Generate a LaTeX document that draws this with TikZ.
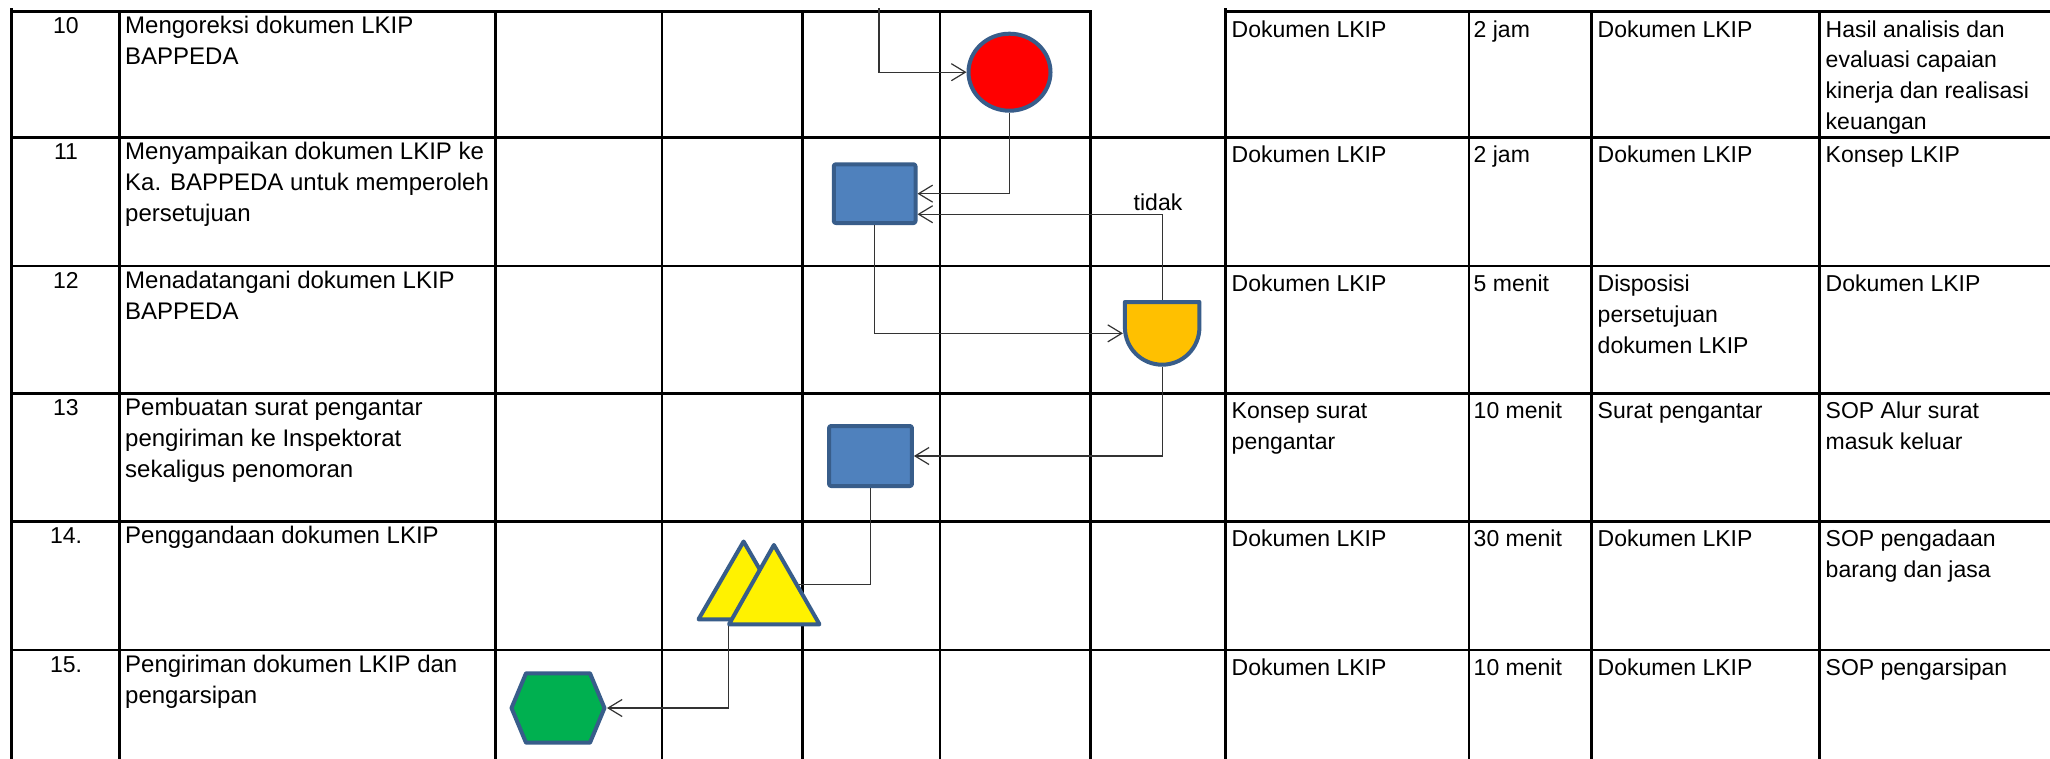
\documentclass[tikz,border=0pt]{standalone}
\usepackage{fontspec}
\setmainfont{Liberation Sans}
\usetikzlibrary{arrows.meta,shapes.geometric}
\definecolor{shapeline}{HTML}{385D8A}
\definecolor{rectfill}{HTML}{4F81BD}
\definecolor{dfill}{HTML}{FFC000}
\definecolor{hexfill}{HTML}{00B050}
\newcommand\tabfont{\fontsize{23pt}{30.8pt}\selectfont}
\newcommand\desfont{\fontsize{24pt}{30.8pt}\selectfont}
\newcommand\ltabstrut{\rule{0pt}{22pt}}
\newcommand\rtabstrut{\rule{0pt}{25.2pt}}
\begin{document}
\begin{tikzpicture}[x=1pt,y=-1pt,
  gridline/.style={line width=2.8pt, line cap=rect},
  numcell/.style={anchor=north, inner sep=0pt, font=\tabfont},
  descell/.style={anchor=north west, inner sep=0pt, align=left, font=\desfont},
  txtcell/.style={anchor=north west, inner sep=0pt, align=left, font=\tabfont},
  shapeborder/.style={draw=shapeline, line width=4pt, line join=round},
  conn/.style={draw=black!80, line width=1.2pt, -{Straight Barb[length=14pt,width=17pt]}},
  connplain/.style={draw=black!80, line width=1.2pt},
  anchorbox/.style={inner sep=0pt, outer sep=0pt, draw=none}]
\useasboundingbox (0,0) rectangle (2050,758);
\clip (0,0) rectangle (2050,758);
\fill[white] (0,0) rectangle (2050,758);
% grid
\draw[gridline] (11.7,11.7) -- (1090.5,11.7);
\draw[gridline] (1225.5,11.7) -- (2070,11.7);
\foreach \yy in {137.5,266,393.5,521.5,650} \draw[gridline] (11.7,\yy) -- (2070,\yy);
\foreach \xx in {11.7,119.3,495.5,662,802.5,940,1090.5,1225.5,1469,1591.3,1819.5} \draw[gridline] (\xx,11.7) -- (\xx,780);
\draw[gridline] (11.7,9) -- (11.7,12);
\draw[gridline] (1225.5,9) -- (1225.5,12);
% row 10
\node[numcell] (n10) at (66,11.7) {\ltabstrut 10};
\node[descell] (d10) at (125,11.7) {\ltabstrut Mengoreksi dokumen LKIP\\BAPPEDA};
\node[txtcell] (a10) at (1231.5,11.7) {\rtabstrut Dokumen LKIP};
\node[txtcell] (b10) at (1473.5,11.7) {\rtabstrut 2 jam};
\node[txtcell] (c10) at (1597.5,11.7) {\rtabstrut Dokumen LKIP};
\node[txtcell] (e10) at (1825.5,11.7) {\rtabstrut Hasil analisis dan\\evaluasi capaian\\kinerja dan realisasi\\keuangan};
% row 11
\node[numcell] (n11) at (66,137.5) {\ltabstrut 11};
\node[descell] (d11) at (125,137.5) {\ltabstrut Menyampaikan dokumen LKIP ke\\Ka. BAPPEDA untuk memperoleh\\persetujuan};
\node[txtcell] (a11) at (1231.5,137.5) {\rtabstrut Dokumen LKIP};
\node[txtcell] (b11) at (1473.5,137.5) {\rtabstrut 2 jam};
\node[txtcell] (c11) at (1597.5,137.5) {\rtabstrut Dokumen LKIP};
\node[txtcell] (e11) at (1825.5,137.5) {\rtabstrut Konsep LKIP};
% row 12
\node[numcell] (n12) at (66,266) {\ltabstrut 12};
\node[descell] (d12) at (125,266) {\ltabstrut Menadatangani dokumen LKIP\\BAPPEDA};
\node[txtcell] (a12) at (1231.5,266) {\rtabstrut Dokumen LKIP};
\node[txtcell] (b12) at (1473.5,266) {\rtabstrut 5 menit};
\node[txtcell] (c12) at (1597.5,266) {\rtabstrut Disposisi\\persetujuan\\dokumen LKIP};
\node[txtcell] (e12) at (1825.5,266) {\rtabstrut Dokumen LKIP};
% row 13
\node[numcell] (n13) at (66,393.5) {\ltabstrut 13};
\node[descell] (d13) at (125,393.5) {\ltabstrut Pembuatan surat pengantar\\pengiriman ke Inspektorat\\sekaligus penomoran};
\node[txtcell] (a13) at (1231.5,393.5) {\rtabstrut Konsep surat\\pengantar};
\node[txtcell] (b13) at (1473.5,393.5) {\rtabstrut 10 menit};
\node[txtcell] (c13) at (1597.5,393.5) {\rtabstrut Surat pengantar};
\node[txtcell] (e13) at (1825.5,393.5) {\rtabstrut SOP Alur surat\\masuk keluar};
% row 14
\node[numcell] (n14) at (66,521.5) {\ltabstrut 14.};
\node[descell] (d14) at (125,521.5) {\ltabstrut Penggandaan dokumen LKIP};
\node[txtcell] (a14) at (1231.5,521.5) {\rtabstrut Dokumen LKIP};
\node[txtcell] (b14) at (1473.5,521.5) {\rtabstrut 30 menit};
\node[txtcell] (c14) at (1597.5,521.5) {\rtabstrut Dokumen LKIP};
\node[txtcell] (e14) at (1825.5,521.5) {\rtabstrut SOP pengadaan\\barang dan jasa};
% row 15
\node[numcell] (n15) at (66,650) {\ltabstrut 15.};
\node[descell] (d15) at (125,650) {\ltabstrut Pengiriman dokumen LKIP dan\\pengarsipan};
\node[txtcell] (a15) at (1231.5,650) {\rtabstrut Dokumen LKIP};
\node[txtcell] (b15) at (1473.5,650) {\rtabstrut 10 menit};
\node[txtcell] (c15) at (1597.5,650) {\rtabstrut Dokumen LKIP};
\node[txtcell] (e15) at (1825.5,650) {\rtabstrut SOP pengarsipan};
% shapes
\node[ellipse, shapeborder, fill=red, minimum width=82pt, minimum height=77pt, inner sep=0pt] (circ) at (1009.5,72.2) {};
\node[rectangle, shapeborder, fill=rectfill, rounded corners=2pt, minimum width=81.7pt, minimum height=58.7pt, inner sep=0pt] (r1) at (874.65,193.65) {};
\node[rectangle, shapeborder, fill=rectfill, rounded corners=2pt, minimum width=82.8pt, minimum height=60pt, inner sep=0pt] (r2) at (870.5,456) {};
\node[anchorbox, minimum width=78.5pt, minimum height=66.7pt] (dly) at (1162.15,333.35) {};
\draw[shapeborder, fill=dfill] (1124.9,302) -- (1124.9,327.45) arc[start angle=180, end angle=360, radius=37.25pt] -- (1199.4,302) -- cycle;
\node[anchorbox, minimum width=95.7pt, minimum height=84pt] (tri2) at (774.2,584.3) {};
\node[anchorbox, minimum width=98pt, minimum height=73.4pt] (hexn) at (558,708) {};
% connector hidden behind the triangles
\draw[connplain] (r2.south) |- (tri2.center);
\draw[shapeborder, fill=yellow] (743.6,541.5) -- (788.7,619.3) -- (698.5,619.3) -- cycle;
\draw[shapeborder, fill=yellow] (773.9,545) -- (819.5,624.3) -- (729,624.3) -- cycle;
\draw[shapeborder, fill=hexfill] (511.5,708) -- (526,673.3) -- (590,673.3) -- (604.5,708) -- (590,742.7) -- (526,742.7) -- cycle;
% connectors
\coordinate (topin) at (879,8);
\draw[conn] (topin) |- (circ.west);
\draw[conn] (circ.south) |- (r1.east);
\draw[conn] (dly.north) |- ([yshift=-20.6pt]r1.east);
\node[anchor=base, inner sep=0pt, font=\tabfont] (tidak) at (1158,210.7) {tidak};
\draw[conn] (r1.south) |- (dly.west);
\draw[conn] (dly.south) |- (r2.east);
\draw[conn] ([xshift=2pt]tri2.south west) |- (hexn.east);
\end{tikzpicture}
\end{document}
